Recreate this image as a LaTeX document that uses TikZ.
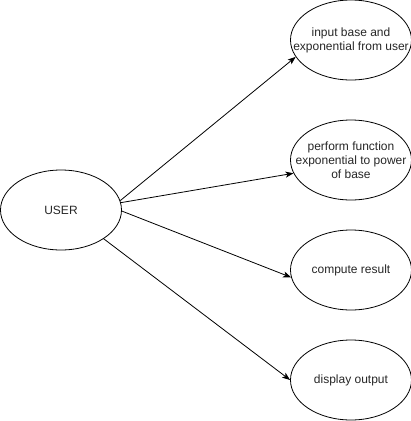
\documentclass[tikz,border=0pt]{standalone}
\usepackage{fontspec}
\setmainfont{Liberation Sans}
\usetikzlibrary{shapes.geometric,arrows.meta}
\begin{document}
\begin{tikzpicture}[x=1pt,y=-1pt,
  uc/.style={draw, ellipse, minimum width=121pt, minimum height=80pt, inner sep=0pt,
    line width=0.8pt},
  lbl/.style={align=center, font=\fontsize{12}{14}\selectfont, text=black!85, inner sep=0pt},
  conn/.style={line width=0.8pt, -{Stealth[length=8pt,width=6pt,inset=2pt]}}]
\useasboundingbox (0,0) rectangle (411,421);
\node[uc, label={[lbl]center:USER}] (user) at (61,210) {};
\node[uc, label={[lbl]center:{input base and\\exponential from user}}] (e1) at (351,40) {};
\node[uc, label={[lbl]center:{perform function\\exponential to power\\of base}}] (e2) at (351,160) {};
\node[uc, label={[lbl]center:compute result}] (e3) at (351,270) {};
\node[uc, label={[lbl]center:display output}] (e4) at (351,380) {};
\draw[conn] (user.9) -- (e1.197);
\draw[conn] (user.7) -- (e2.193);
\draw[conn] (user.-1) -- (e3.187);
\draw[conn] (user.-34) -- (e4.180);
\end{tikzpicture}
\end{document}
